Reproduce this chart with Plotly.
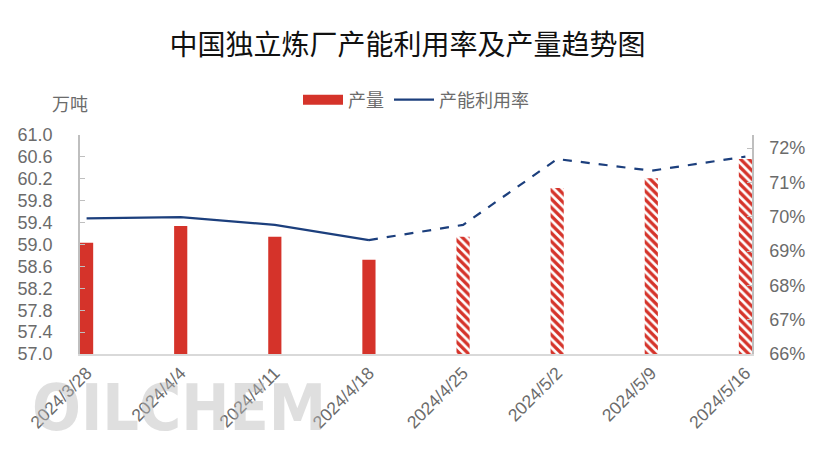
import plotly.graph_objects as go

categories = ["2024/3/28", "2024/4/4", "2024/4/11", "2024/4/18",
              "2024/4/25", "2024/5/2", "2024/5/9", "2024/5/16"]
output_wt = [59.03, 59.34, 59.14, 58.72, 59.14, 60.03, 60.21, 60.56]
utilization = [69.95, 69.99, 69.76, 69.32, 69.76, 71.68, 71.34, 71.75]
left_ticks = [57.0, 57.4, 57.8, 58.2, 58.6, 59.0, 59.4, 59.8, 60.2, 60.6, 61.0]
right_ticks = [66, 67, 68, 69, 70, 71, 72]

actual_n = 4  # first 4 actual, rest forecast

RED = "#d5332a"
NAVY = "#1c3f7d"
GRAY = "#6b6b6b"
FONT = "Noto Sans CJK SC"
NUMFONT = "Liberation Sans, Arial, sans-serif"

fig = go.Figure()

fig.add_trace(go.Bar(
    x=categories[:actual_n], y=output_wt[:actual_n],
    marker=dict(color=RED, line=dict(width=0)),
    width=0.14, showlegend=False, yaxis="y",
))
fig.add_trace(go.Bar(
    x=categories[actual_n:], y=output_wt[actual_n:],
    marker=dict(color=RED, line=dict(width=0),
                pattern=dict(shape="\\", fgcolor=RED, bgcolor="white",
                             size=6, solidity=0.55, fillmode="replace")),
    width=0.14, showlegend=False, yaxis="y",
))
fig.add_trace(go.Scatter(
    x=[None], y=[None], mode="lines", name="产量",
    line=dict(color=RED, width=10), yaxis="y",
))
fig.add_trace(go.Scatter(
    x=categories[:actual_n], y=utilization[:actual_n], mode="lines",
    name="产能利用率", line=dict(color=NAVY, width=2.2), yaxis="y2",
))
fig.add_trace(go.Scatter(
    x=categories[actual_n - 1:], y=utilization[actual_n - 1:], mode="lines",
    showlegend=False, line=dict(color=NAVY, width=2.2, dash="dash"), yaxis="y2",
))

fig.update_layout(
    width=815, height=461,
    margin=dict(l=80, r=63, t=135, b=107, autoexpand=False),
    paper_bgcolor="white", plot_bgcolor="white",
    font=dict(family=FONT, color=GRAY, size=17),
    title=dict(text="中国独立炼厂产能利用率及产量趋势图", x=0.5, xanchor="center",
               y=0.902, yanchor="middle",
               font=dict(family=FONT, size=28, color="#111111")),
    barmode="overlay",
    showlegend=True,
    legend=dict(orientation="h", x=0.5, xanchor="center", y=1.16, yanchor="middle",
                font=dict(family=FONT, size=18, color=GRAY),
                itemwidth=40, tracegroupgap=0, traceorder="normal"),
    xaxis=dict(type="category", categoryorder="array", categoryarray=categories,
               range=[-0.07, 7.07], tickangle=-45, showgrid=False, automargin=False,
               showline=True, linecolor="#d9d9d9", linewidth=2,
               ticks="", tickfont=dict(family=NUMFONT, size=17.5, color=GRAY)),
    yaxis=dict(range=[57.0, 61.0], tickvals=left_ticks,
               ticktext=[f"{v:.1f}" for v in left_ticks], automargin=False,
               showgrid=False, zeroline=False, showline=True,
               linecolor="#bfbfbf", linewidth=1.5, ticks="inside", ticklen=5,
               tickcolor="#bfbfbf", ticklabelstandoff=22,
               tickfont=dict(family=NUMFONT, size=18, color=GRAY)),
    yaxis2=dict(overlaying="y", side="right", range=[66, 72.38], automargin=False,
                tickvals=right_ticks, ticktext=[f"{v}%" for v in right_ticks],
                showgrid=False, zeroline=False, showline=True,
                linecolor="#bfbfbf", linewidth=1.5, ticks="inside", ticklen=5,
                tickcolor="#bfbfbf", ticklabelstandoff=12,
                tickfont=dict(family=NUMFONT, size=18, color=GRAY)),
    annotations=[
        dict(text="万吨", xref="paper", yref="paper", x=0.015, y=1.146,
             xanchor="right", yanchor="middle", showarrow=False,
             font=dict(family=FONT, size=18, color=GRAY)),
        dict(text="<b>OILCHEM</b>", xref="paper", yref="paper", x=-0.075, y=-0.247,
             xanchor="left", yanchor="middle", showarrow=False,
             font=dict(family="DejaVu Sans Condensed, DejaVu Sans", size=64,
                       color="rgba(185,185,185,0.45)")),
    ],
)

fig.write_html("out.html", config={"displayModeBar": False},
               post_script="document.body.style.margin='0';document.body.style.padding='0';")
